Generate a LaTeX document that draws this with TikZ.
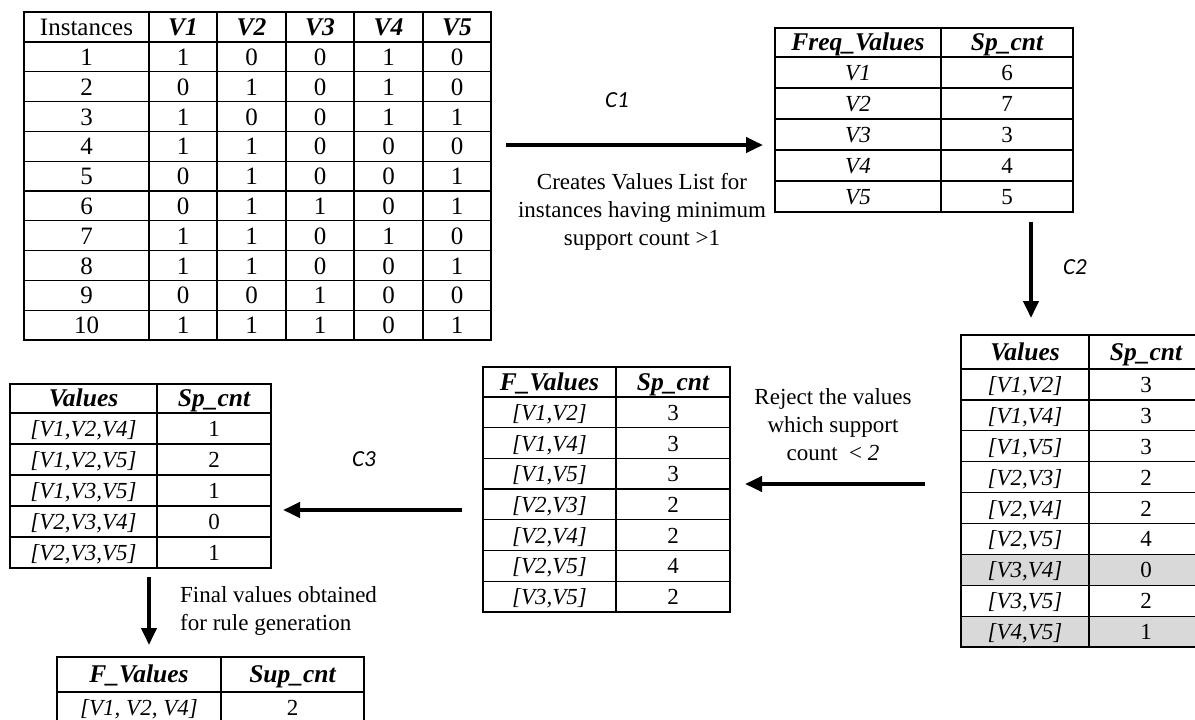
\documentclass[tikz,border=0pt]{standalone}
\usepackage{fontspec}
\setmainfont{Liberation Serif}
\newfontfamily\calibfont{Carlito}
\usetikzlibrary{arrows.meta}
\begin{document}
\begin{tikzpicture}[x=1pt,y=-1pt,
  tbl/.style={line width=1.3pt, draw=black},
  cell/.style={inner sep=0pt, text height=16pt, text depth=0pt, font=\fontsize{23}{27}\selectfont},
  icell/.style={cell, font=\fontsize{23}{27}\selectfont\itshape},
  hdr/.style={cell, font=\fontsize{25.5}{30}\selectfont\bfseries\itshape},
  mcell/.style={cell, text height=17pt, font=\fontsize{25}{30}\selectfont},
  note/.style={align=center, inner sep=0pt, font=\fontsize{23}{28}\selectfont},
  clab/.style={inner sep=0pt, font=\fontsize{23}{27}\selectfont\calibfont\itshape},
  bigarrow/.style={line width=4pt, -{Triangle[length=17pt,width=15pt]}}]
\clip (0,0) rectangle (1195,720);
\fill[white] (0,0) rectangle (1195,720);

% ---------- main table ----------
\draw[tbl] (24,12) rectangle (491,340);
\foreach \x in {149,217,286,354,423} \draw[tbl] (\x,12) -- (\x,340);
\foreach \r in {0,...,9} \draw[tbl] (24,{42+\r*29.8}) -- (491,{42+\r*29.8});
\node[mcell] (m-h0) at (86.5,27) {Instances};
\foreach \v [count=\c] in {V1,V2,V3,V4,V5}
  \node[hdr] (m-h\c) at ({183+(\c-1)*68.5},27) {\v};
\foreach \vals [count=\r] in {{1,0,0,1,0},{0,1,0,1,0},{1,0,0,1,1},{1,1,0,0,0},{0,1,0,0,1},{0,1,1,0,1},{1,1,0,1,0},{1,1,0,0,1},{0,0,1,0,0},{1,1,1,0,1}} {
  \node[mcell] (m-\r-0) at (86.5,{42+(\r-0.5)*29.8}) {\r};
  \foreach \v [count=\c] in \vals
    \node[mcell] (m-\r-\c) at ({183+(\c-1)*68.5},{42+(\r-0.5)*29.8}) {\v};
}

% ---------- Freq table ----------
\draw[tbl] (775,28) rectangle (1073,212);
\draw[tbl] (941,28) -- (941,212);
\foreach \y in {57,88,119,150,181} \draw[tbl] (775,\y) -- (1073,\y);
\node[hdr] (f-h1) at (858,42.5) {Freq\_Values};
\node[hdr] (f-h2) at (1007,42.5) {Sp\_cnt};
\foreach \a/\b [count=\r] in {V1/6,V2/7,V3/3,V4/4,V5/5} {
  \node[icell] (f-\r-1) at (858,{57+(\r-0.5)*31}) {\a};
  \node[cell] (f-\r-2) at (1007,{57+(\r-0.5)*31}) {\b};
}

% ---------- right Values table ----------
\fill[black!15] (961,{369+6*30.9}) rectangle (1205,{369+7*30.9});
\fill[black!15] (961,{369+8*30.9}) rectangle (1205,647);
\draw[tbl] (961,335) rectangle (1205,647);
\draw[tbl] (1089,335) -- (1089,647);
\foreach \k in {0,...,8} \draw[tbl] (961,{369+\k*30.9}) -- (1205,{369+\k*30.9});
\node[hdr] (r-h1) at (1025,352) {Values};
\node[hdr] (r-h2) at (1146,352) {Sp\_cnt};
\foreach \a/\b [count=\r] in {{[V1,V2]}/3,{[V1,V4]}/3,{[V1,V5]}/3,{[V2,V3]}/2,{[V2,V4]}/2,{[V2,V5]}/4,{[V3,V4]}/0,{[V3,V5]}/2,{[V4,V5]}/1} {
  \node[icell] (r-\r-1) at (1025,{369+(\r-0.5)*30.9}) {\a};
  \node[cell] (r-\r-2) at (1146,{369+(\r-0.5)*30.9}) {\b};
}

% ---------- middle F_Values table ----------
\draw[tbl] (483,367) rectangle (730,612);
\draw[tbl] (616,367) -- (616,612);
\foreach \k in {0,...,6} \draw[tbl] (483,{397+\k*30.71}) -- (730,{397+\k*30.71});
\node[hdr] (c-h1) at (549.5,382) {F\_Values};
\node[hdr] (c-h2) at (673,382) {Sp\_cnt};
\foreach \a/\b [count=\r] in {{[V1,V2]}/3,{[V1,V4]}/3,{[V1,V5]}/3,{[V2,V3]}/2,{[V2,V4]}/2,{[V2,V5]}/4,{[V3,V5]}/2} {
  \node[icell] (c-\r-1) at (549.5,{397+(\r-0.5)*30.71}) {\a};
  \node[cell] (c-\r-2) at (673,{397+(\r-0.5)*30.71}) {\b};
}

% ---------- left Values table ----------
\draw[tbl] (10,384) rectangle (271,568);
\draw[tbl] (157,384) -- (157,568);
\foreach \k in {0,...,4} \draw[tbl] (10,{413+\k*31}) -- (271,{413+\k*31});
\node[hdr] (l-h1) at (83.5,398.5) {Values};
\node[hdr] (l-h2) at (214,398.5) {Sp\_cnt};
\foreach \a/\b [count=\r] in {{[V1,V2,V4]}/1,{[V1,V2,V5]}/2,{[V1,V3,V5]}/1,{[V2,V3,V4]}/0,{[V2,V3,V5]}/1} {
  \node[icell] (l-\r-1) at (83.5,{413+(\r-0.5)*31}) {\a};
  \node[cell] (l-\r-2) at (214,{413+(\r-0.5)*31}) {\b};
}

% ---------- final table ----------
\draw[tbl] (57,657) rectangle (364,727);
\draw[tbl] (221,657) -- (221,727);
\draw[tbl] (57,692) -- (364,692);
\node[hdr] (g-h1) at (139,674.5) {F\_Values};
\node[hdr] (g-h2) at (292.5,674.5) {Sup\_cnt};
\node[icell] (g-1-1) at (139,707) {[V1, V2, V4]};
\node[cell] (g-1-2) at (292.5,707) {2};

% ---------- texts ----------
\node[note] (t1) at (642,212) {Creates Values List for\\instances having minimum\\support count >1};
\node[note] (t2) at (833,425) {Reject the values\\which support\\count\ \ <\ \textit{2}};
\node[note, align=left, anchor=west] (t3) at (180,611) {Final values obtained\\for rule generation};
\node[clab] (lc1) at (617,100) {C1};
\node[clab] (lc2) at (1075,267) {C2};
\node[clab] (lc3) at (364,459) {C3};

% ---------- arrows ----------
\coordinate (a1s) at (506,145); \coordinate (a1e) at (763,145);
\coordinate (a2s) at (1031,222); \coordinate (a2e) at (1031,318);
\coordinate (a3s) at (925,484); \coordinate (a3e) at (745,484);
\coordinate (a4s) at (462,510); \coordinate (a4e) at (283,510);
\coordinate (a5s) at (149,577); \coordinate (a5e) at (149,645);
\draw[bigarrow] (a1s) -- (a1e);
\draw[bigarrow] (a2s) -- (a2e);
\draw[bigarrow] (a3s) -- (a3e);
\draw[bigarrow] (a4s) -- (a4e);
\draw[bigarrow] (a5s) -- (a5e);
\end{tikzpicture}
\end{document}
